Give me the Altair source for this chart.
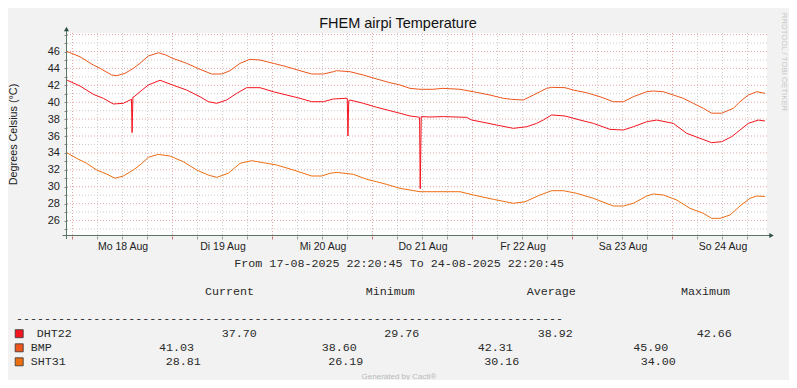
import json
import altair as alt
import pandas as pd

# ---------------- texts ----------------
title_text = "FHEM airpi Temperature"
y_title = "Degrees Celsius (°C)"
period_text = "From 17-08-2025 22:20:45 To 24-08-2025 22:20:45"
watermark_text = "RRDTOOL / TOBI OETIKER"
credit_text = "Generated by Cacti®"

# ---------------- legend / statistics ----------------
sensors = ["DHT22", "BMP", "SHT31"]
sensor_colors = ["#F5141E", "#EC561C", "#EC6E12"]
legend_headers = ["Current", "Minimum", "Average", "Maximum"]
stat_current = [37.70, 41.03, 28.81]
stat_minimum = [29.76, 38.60, 26.19]
stat_average = [38.92, 42.31, 30.16]
stat_maximum = [42.66, 45.90, 34.00]

# ---------------- axes ----------------
day_labels = ["Mo 18 Aug", "Di 19 Aug", "Mi 20 Aug", "Do 21 Aug",
              "Fr 22 Aug", "Sa 23 Aug", "So 24 Aug"]
day_label_hours = [36, 60, 84, 108, 132, 156, 180]   # noon of each day (hours since 17-08 00:00)
y_tick_values = list(range(25, 49))
x_domain = [22.68, 190.68]
y_domain = [24.17, 48.19]

# ---------------- series (hours since 17-08-2025 00:00, degrees C) ----------------
bmp_h = [22.7, 25.8, 29.0, 30.6, 33.4, 34.6, 36.6, 38.6, 40.2, 42.2, 44.6, 46.4, 48.0, 51.4,
         54.6, 57.4, 59.8, 61.8, 64.2, 66.6, 69.0, 72.2, 75.4, 78.6, 81.4, 84.2, 86.6, 87.4,
         90.6, 93.8, 97.0, 100.2, 102.6, 105.0, 107.4, 110.5, 112.9, 117.0, 120.2, 124.2, 127.4,
         129.4, 132.2, 134.6, 137.8, 139.0, 142.2, 144.2, 147.4, 150.6, 153.8, 156.2, 158.6,
         161.8, 163.4, 165.8, 168.2, 170.6, 173.0, 175.4, 177.4, 179.8, 182.6, 184.2, 186.2,
         188.2, 190.2]
bmp_t = [46.0, 45.38, 44.40, 44.01, 43.22, 43.14, 43.42, 44.01, 44.60, 45.47, 45.85, 45.59, 45.20, 44.60,
         43.89, 43.34, 43.34, 43.73, 44.60, 45.08, 44.99, 44.60, 44.20, 43.73, 43.34, 43.34, 43.61, 43.73,
         43.61, 43.22, 42.75, 42.31, 42.04, 41.64, 41.53, 41.53, 41.64, 41.53, 41.24, 40.85, 40.46,
         40.34, 40.26, 40.85, 41.64, 41.76, 41.72, 41.44, 41.12, 40.65, 40.06, 40.06, 40.65,
         41.24, 41.33, 41.24, 40.85, 40.46, 39.87, 39.28, 38.70, 38.70, 39.28, 40.06, 40.85,
         41.24, 41.05]

dht22_h = [22.7, 25.8, 29.0, 31.4, 33.8, 36.2, 37.8, 38.15, 38.3, 38.5, 38.8, 40.2, 42.2, 45.0,
           48.0, 51.4, 54.6, 56.6, 58.6, 61.0, 63.4, 65.8, 69.0, 72.2, 75.4, 78.6, 81.4, 84.2,
           86.6, 89.4, 89.95, 90.1, 90.3, 90.6, 93.8, 97.0, 102.6, 105.0, 106.9, 107.3, 107.45,
           107.7, 109.8, 113.0, 118.6, 119.8, 125.8, 129.8, 133.0, 135.4, 137.0, 139.0, 142.2,
           145.8, 149.0, 153.0, 156.2, 158.6, 161.8, 164.2, 168.2, 171.4, 174.6, 177.4, 179.8,
           182.2, 184.2, 186.2, 188.6, 190.2]
dht22_t = [42.61, 41.92, 40.93, 40.46, 39.79, 39.87, 40.26, 40.35, 36.4, 40.6, 40.65, 41.24, 42.04, 42.6,
           42.04, 41.44, 40.65, 40.06, 39.87, 40.26, 41.05, 41.72, 41.72, 41.24, 40.85, 40.46, 40.06, 40.06,
           40.38, 40.46, 40.45, 36.0, 40.2, 40.26, 39.87, 39.40, 38.69, 38.37, 38.25, 38.2, 29.76,
           38.3, 38.25, 38.3, 38.21, 37.9, 37.3, 36.91, 37.1, 37.5, 37.9, 38.49, 38.37,
           37.89, 37.50, 36.79, 36.71, 37.10, 37.69, 37.89, 37.50, 36.32, 35.73, 35.21, 35.33,
           35.92, 36.71, 37.50, 37.89, 37.78]

sht31_h = [22.7, 25.0, 27.4, 29.8, 32.2, 34.2, 36.2, 38.6, 40.2, 42.2, 44.6, 47.4, 50.6, 53.8,
           56.6, 58.6, 61.4, 64.2, 67.0, 69.8, 73.0, 77.0, 81.4, 83.8, 85.8, 87.4, 91.4, 94.6,
           97.0, 99.4, 102.6, 107.4, 109.8, 117.0, 120.2, 125.0, 129.8, 132.6, 136.2, 139.0,
           141.8, 145.0, 149.0, 153.8, 156.2, 158.6, 161.8, 163.4, 165.8, 169.0, 172.2, 175.4,
           177.4, 179.4, 181.8, 184.2, 186.6, 188.2, 190.2]
sht31_t = [34.0, 33.36, 32.77, 31.98, 31.50, 31.0, 31.27, 31.98, 32.57, 33.48, 33.83, 33.63, 32.96, 31.98,
           31.38, 31.11, 31.59, 32.77, 33.08, 32.84, 32.57, 31.98, 31.27, 31.27, 31.59, 31.70, 31.47, 30.88,
           30.59, 30.28, 29.81, 29.41, 29.41, 29.41, 29.02, 28.51, 28.04, 28.22, 29.02, 29.53,
           29.53, 29.22, 28.63, 27.72, 27.72, 28.04, 28.90, 29.14, 29.02, 28.43, 27.44, 26.85,
           26.26, 26.26, 26.65, 27.72, 28.63, 28.90, 28.85]

# ---------------- layout (not data) ----------------
W, H = 700, 203
PAD = {"left": 59, "top": 25, "right": 22, "bottom": 144}
OX, OY = 8 + PAD["left"], 8 + PAD["top"]     # reference-image pixel of plot origin
BG = "#f2f2f2"
AXIS_COLOR = "#5b7565"
ARROW_COLOR = "#2d5244"
MAJOR_GRID = "#e6a6a6"
MINOR_GRID = "#cbcbcb"
TEXT_COLOR = "#222222"
MONO = "Liberation Mono"
SANS = "Liberation Sans"
MONO_SIZE = 11.7

period_pos = (234.3, 262.7)
header_x = [205, 365.7, 526.7, 681]
header_y = 290.7
dash_pos = (16, 318.3)
row_y = [332.5, 346.7, 360.7]
name_x = [36.7, 30.7, 30.7]
stat_x = [[221.7, 384.3, 537.7, 696.7],
          [159.0, 321.7, 477.7, 633.3],
          [165.7, 328.3, 484.3, 640.7]]
square_x = 19.2
square_y = [333.7, 347.8, 361.8]


def px(X):
    return X - OX


def py(Y):
    return Y - OY


# ---------------- data frames ----------------
rows = []
for name, hs, ts in [("DHT22", dht22_h, dht22_t), ("BMP", bmp_h, bmp_t), ("SHT31", sht31_h, sht31_t)]:
    for i, (h, t) in enumerate(zip(hs, ts)):
        rows.append({"sensor": name, "h": h, "t": t, "i": i})
series_df = pd.DataFrame(rows)

grid_hours = [h for h in range(24, 191, 6) if x_domain[0] <= h <= x_domain[1]]
vmajor_df = pd.DataFrame({"h": [h for h in grid_hours if h % 24 == 0]})
vminor_df = pd.DataFrame({"h": [h for h in grid_hours if h % 24 != 0]})
hmajor_df = pd.DataFrame({"t": [v for v in y_tick_values if v % 2 == 0]})
hminor_df = pd.DataFrame({"t": [v for v in y_tick_values if v % 2 == 1]})

xs = alt.Scale(domain=x_domain, nice=False, zero=False)
ys = alt.Scale(domain=y_domain, nice=False, zero=False)
color_scale = alt.Scale(domain=sensors, range=sensor_colors)

x_label_expr = json.dumps(day_labels) + "[floor((datum.value - 36) / 24)]"
y_label_expr = "(datum.value % 2 == 0 && datum.value <= 46) ? datum.label : ''"

x_axis = alt.Axis(
    values=day_label_hours, labelExpr=x_label_expr, ticks=False, domain=False, grid=False,
    labelFont=SANS, labelFontSize=10.5, labelColor=TEXT_COLOR, labelPadding=5.5,
    labelOverlap=False, labelFlush=False, title=None)
y_axis = alt.Axis(
    values=y_tick_values, labelExpr=y_label_expr, tickSize=3, tickColor="#8a8a8a",
    domain=False, grid=False, labelFont=SANS, labelFontSize=11, labelColor=TEXT_COLOR,
    labelPadding=4.5, labelOverlap=False, labelFlush=False,
    title=y_title, titleFont=SANS, titleFontSize=10.8, titleFontWeight="normal",
    titleColor=TEXT_COLOR, titleX=-50.4, titleY=101, titleAlign="center",
    titleBaseline="alphabetic", titleAngle=270)

X = alt.X("h:Q", scale=xs, axis=x_axis)
Y = alt.Y("t:Q", scale=ys, axis=y_axis)

dotted = dict(strokeDash=[1, 2], strokeWidth=1)

vminor = alt.Chart(vminor_df).mark_rule(color=MINOR_GRID, **dotted).encode(x=X)
vmajor = alt.Chart(vmajor_df).mark_rule(color=MAJOR_GRID, **dotted).encode(x=X)
hminor = alt.Chart(hminor_df).mark_rule(color=MINOR_GRID, **dotted).encode(y=Y)
hmajor = alt.Chart(hmajor_df).mark_rule(color=MAJOR_GRID, **dotted).encode(y=Y)

xtick_minor = alt.Chart(vminor_df).mark_rule(color="#9a9a9a", strokeWidth=1).encode(
    x=X, y=alt.value(H + 0.5), y2=alt.value(H + 3.5))
xtick_major = alt.Chart(vmajor_df).mark_rule(color="#c87070", strokeWidth=1).encode(
    x=X, y=alt.value(H + 0.5), y2=alt.value(H + 3.5))

lines = alt.Chart(series_df).mark_line(strokeWidth=1).encode(
    x=X, y=Y,
    color=alt.Color("sensor:N", scale=color_scale, legend=None),
    order=alt.Order("i:Q"),
)

one = pd.DataFrame({"a": [0]})
axis_x = alt.Chart(one).mark_rule(color=AXIS_COLOR, strokeWidth=1).encode(
    x=alt.value(-4.5), x2=alt.value(703), y=alt.value(H - 0.5))
axis_y = alt.Chart(one).mark_rule(color=AXIS_COLOR, strokeWidth=1).encode(
    x=alt.value(-0.5), y=alt.value(-3), y2=alt.value(H + 3))
arrow_y = alt.Chart(one).mark_point(shape="triangle-up", filled=True, size=26, opacity=1,
                                    color=ARROW_COLOR).encode(x=alt.value(-0.5), y=alt.value(-4))
arrow_x = alt.Chart(one).mark_point(shape="triangle-right", filled=True, size=26, opacity=1,
                                    color=ARROW_COLOR).encode(x=alt.value(704.5), y=alt.value(H - 0.5))

title = alt.Chart(pd.DataFrame({"text": [title_text]})).mark_text(
    font=SANS, fontSize=14.5, align="center", baseline="alphabetic", color="#111111").encode(
    x=alt.value(331), y=alt.value(-4.7), text="text:N")

# monospace legend block
mono_rows = [{"text": period_text, "px": px(period_pos[0]), "py": py(period_pos[1])}]
for hx, htxt in zip(header_x, legend_headers):
    mono_rows.append({"text": htxt, "px": px(hx), "py": py(header_y)})
mono_rows.append({"text": "-" * 78, "px": px(dash_pos[0]), "py": py(dash_pos[1])})
for r, name in enumerate(sensors):
    mono_rows.append({"text": name, "px": px(name_x[r]), "py": py(row_y[r])})
    vals = [stat_current[r], stat_minimum[r], stat_average[r], stat_maximum[r]]
    for c, v in enumerate(vals):
        mono_rows.append({"text": f"{v:.2f}", "px": px(stat_x[r][c]), "py": py(row_y[r])})
mono_df = pd.DataFrame(mono_rows)

mono_text = alt.Chart(mono_df).mark_text(
    font=MONO, fontSize=MONO_SIZE, align="left", baseline="middle", color="#2a2a2a").encode(
    x=alt.X("px:Q", scale=None, axis=None), y=alt.Y("py:Q", scale=None, axis=None), text="text:N")

sq_df = pd.DataFrame({"sensor": sensors, "px": [px(square_x)] * 3, "py": [py(v) for v in square_y]})
squares = alt.Chart(sq_df).mark_point(shape="square", filled=True, size=64, opacity=1,
                                      stroke="#333333", strokeWidth=0.8).encode(
    x=alt.X("px:Q", scale=None, axis=None), y=alt.Y("py:Q", scale=None, axis=None),
    fill=alt.Fill("sensor:N", scale=color_scale, legend=None))

credit = alt.Chart(pd.DataFrame({"text": [credit_text]})).mark_text(
    font=SANS, fontSize=8, align="center", baseline="middle", color="#b9b9b9").encode(
    x=alt.value(px(399)), y=alt.value(py(377.3)), text="text:N")

watermark = alt.Chart(pd.DataFrame({"text": [watermark_text]})).mark_text(
    font=SANS, fontSize=7.8, angle=90, align="center", baseline="middle", color="#c4c4c4").encode(
    x=alt.value(px(783.5)), y=alt.value(py(62)), text="text:N")

chart = alt.layer(
    vminor, vmajor, hminor, hmajor, xtick_minor, xtick_major, lines,
    axis_x, axis_y, arrow_x, arrow_y, title, mono_text, squares, credit, watermark,
).properties(
    width=W, height=H, padding=PAD, autosize=alt.AutoSizeParams(type="none"), background=BG,
).configure_view(fill="white", stroke=None)

chart.save("out.html", embed_options={"renderer": "svg", "actions": False})
